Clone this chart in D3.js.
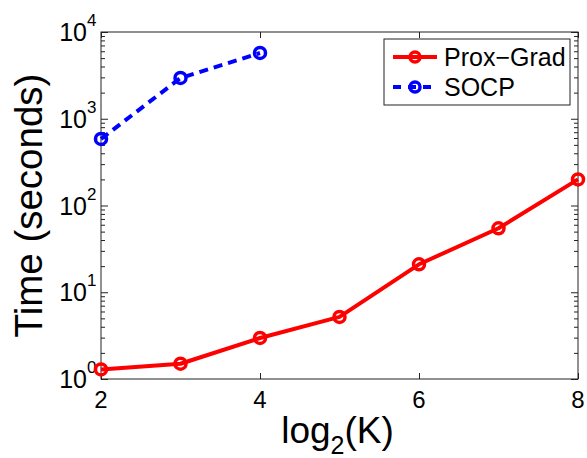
<!DOCTYPE html>
<html>
<head>
<meta charset="utf-8">
<script src="https://cdn.jsdelivr.net/npm/d3@7/dist/d3.min.js"></script>
<style>
  html, body { margin: 0; padding: 0; background: #fff; }
  svg { display: block; }
  text { font-family: "Liberation Sans", Arial, Helvetica, sans-serif; fill: #000; }
</style>
</head>
<body>
<svg id="chart" width="587" height="458"></svg>
<script>
// Runtime (seconds) versus problem size log2(K)
const xValues    = [2, 3, 4, 5, 6, 7, 8];
const proxGrad   = [1.29, 1.5, 2.97, 5.2, 21, 54.6, 200];
const socpX      = [2, 3, 4];
const socp       = [585, 2950, 5730];
const xTicks     = [2, 4, 6, 8];
const yDecades   = [0, 1, 2, 3, 4];
const seriesNames = ["Prox\u2212Grad", "SOCP"];

const svg = d3.select("#chart");
const margin = { left: 101, top: 32, right: 9, bottom: 79 };
const W = 587, H = 458;
const x0 = margin.left, x1 = W - margin.right;
const y0 = H - margin.bottom, y1 = margin.top;

const x = d3.scaleLinear().domain([2, 8]).range([x0, x1]);
const y = d3.scaleLog().domain([1, 1e4]).range([y0, y1]);

// minor tick values: 2..9 within each decade
const minorTicks = [];
for (let d = 0; d < 4; d++) for (let m = 2; m <= 9; m++) minorTicks.push(m * Math.pow(10, d));

const axisColor = "#222";

// axes box
svg.append("rect")
  .attr("x", x0).attr("y", y1).attr("width", x1 - x0).attr("height", y0 - y1)
  .attr("fill", "none").attr("stroke", axisColor).attr("stroke-width", 1);

function styleAxis(g) {
  g.select(".domain").remove();
  g.selectAll(".tick line").attr("stroke", axisColor).attr("stroke-width", 1);
}

// bottom and top x ticks (inside)
svg.append("g").attr("transform", `translate(0,${y0})`)
  .call(d3.axisBottom(x).tickValues(xTicks).tickSize(-6).tickFormat(""))
  .call(styleAxis);
svg.append("g").attr("transform", `translate(0,${y1})`)
  .call(d3.axisTop(x).tickValues(xTicks).tickSize(-6).tickFormat(""))
  .call(styleAxis);

// left and right y ticks (inside), major and minor
const majorVals = yDecades.map(d => Math.pow(10, d));
svg.append("g").attr("transform", `translate(${x0},0)`)
  .call(d3.axisLeft(y).tickValues(majorVals).tickSize(-7).tickFormat(""))
  .call(styleAxis);
svg.append("g").attr("transform", `translate(${x0},0)`)
  .call(d3.axisLeft(y).tickValues(minorTicks).tickSize(-4).tickFormat(""))
  .call(styleAxis);
svg.append("g").attr("transform", `translate(${x1},0)`)
  .call(d3.axisRight(y).tickValues(majorVals).tickSize(-7).tickFormat(""))
  .call(styleAxis);
svg.append("g").attr("transform", `translate(${x1},0)`)
  .call(d3.axisRight(y).tickValues(minorTicks).tickSize(-4).tickFormat(""))
  .call(styleAxis);

// x tick labels
svg.append("g").selectAll("text").data(xTicks).join("text")
  .attr("x", d => x(d)).attr("y", y0 + 29)
  .attr("text-anchor", "middle").attr("font-size", 24)
  .text(d => d);

// y tick labels: 10 with superscript exponent
const yl = svg.append("g").selectAll("g").data(yDecades).join("g")
  .attr("transform", d => `translate(${x0 - 14},${y(Math.pow(10, d))})`);
yl.append("text")
  .attr("x", 0).attr("y", 9).attr("text-anchor", "end").attr("font-size", 25)
  .text("10");
yl.append("text")
  .attr("x", 0).attr("y", -6).attr("text-anchor", "start").attr("font-size", 17)
  .text(d => d);

// axis titles
const xt = svg.append("text")
  .attr("x", (x0 + x1) / 2 - 2).attr("y", 443)
  .attr("text-anchor", "middle").attr("font-size", 37);
xt.append("tspan").text("log");
xt.append("tspan").attr("font-size", 25).attr("dy", 11).text("2");
xt.append("tspan").attr("dy", -11).text("(K)");

svg.append("text")
  .attr("transform", `translate(42,${(y0 + y1) / 2}) rotate(-90)`)
  .attr("text-anchor", "middle").attr("font-size", 38.5)
  .text("Time (seconds)");

// series
const line = d3.line().x(d => x(d[0])).y(d => y(d[1]));
const proxData = xValues.map((v, i) => [v, proxGrad[i]]);
const socpData = socpX.map((v, i) => [v, socp[i]]);

const series = [
  { data: proxData, color: "#ff0000", dash: null },
  { data: socpData, color: "#0000ff", dash: "9,6" }
];

series.forEach(s => {
  svg.append("path").datum(s.data)
    .attr("d", line).attr("fill", "none")
    .attr("stroke", s.color).attr("stroke-width", 4)
    .attr("stroke-dasharray", s.dash)
    .attr("stroke-linejoin", "round");
  svg.append("g").selectAll("circle").data(s.data).join("circle")
    .attr("cx", d => x(d[0])).attr("cy", d => y(d[1])).attr("r", 5.5)
    .attr("fill", "none").attr("stroke", s.color).attr("stroke-width", 3.5);
});

// legend
const lg = svg.append("g");
lg.append("rect").attr("x", 384).attr("y", 39).attr("width", 186).attr("height", 66)
  .attr("fill", "#fff").attr("stroke", axisColor).attr("stroke-width", 1);
series.forEach((s, i) => {
  const cy = 57 + i * 30;
  lg.append("line").attr("x1", 393).attr("x2", 437).attr("y1", cy).attr("y2", cy)
    .attr("stroke", s.color).attr("stroke-width", 4).attr("stroke-dasharray", s.dash ? "8,7" : null);
  lg.append("circle").attr("cx", 415).attr("cy", cy).attr("r", 5)
    .attr("fill", "none").attr("stroke", s.color).attr("stroke-width", 3.5);
  lg.append("text").attr("x", 444).attr("y", cy + 9).attr("font-size", 25)
    .text(seriesNames[i]);
});
</script>
</body>
</html>
